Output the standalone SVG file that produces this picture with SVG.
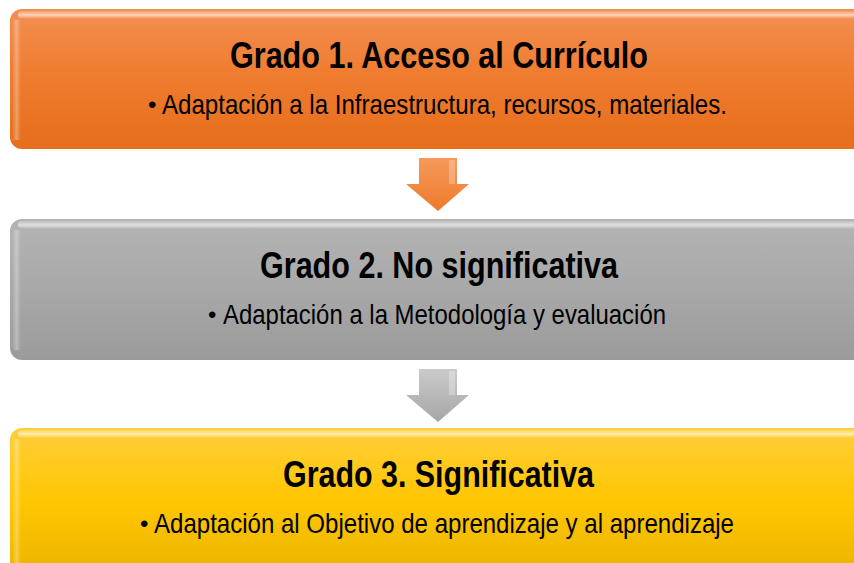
<svg xmlns="http://www.w3.org/2000/svg" width="854" height="563" viewBox="0 0 854 563">
<defs>
<linearGradient id="gO" x1="0" y1="0" x2="0" y2="1">
<stop offset="0" stop-color="#F38E52"/><stop offset="0.5" stop-color="#EF7B2D"/><stop offset="1" stop-color="#E66E1C"/>
</linearGradient>
<linearGradient id="gG" x1="0" y1="0" x2="0" y2="1">
<stop offset="0" stop-color="#B4B4B4"/><stop offset="0.5" stop-color="#A8A8A8"/><stop offset="1" stop-color="#9B9B9B"/>
</linearGradient>
<linearGradient id="gY" x1="0" y1="0" x2="0" y2="1">
<stop offset="0" stop-color="#FFCE3A"/><stop offset="0.5" stop-color="#FFC600"/><stop offset="1" stop-color="#EBB400"/>
</linearGradient>
<linearGradient id="gl" x1="0" y1="0" x2="0" y2="1">
<stop offset="0" stop-color="#fff" stop-opacity="0.15"/><stop offset="0.5" stop-color="#fff" stop-opacity="0.6"/><stop offset="1" stop-color="#fff" stop-opacity="0"/>
</linearGradient>
<linearGradient id="glL" x1="0" y1="0" x2="1" y2="0">
<stop offset="0" stop-color="#fff" stop-opacity="0"/><stop offset="0.5" stop-color="#fff" stop-opacity="0.3"/><stop offset="1" stop-color="#fff" stop-opacity="0"/>
</linearGradient>
<linearGradient id="aO" x1="0" y1="0" x2="0" y2="1">
<stop offset="0" stop-color="#F59A5C"/><stop offset="1" stop-color="#EE7A2A"/>
</linearGradient>
<linearGradient id="aG" x1="0" y1="0" x2="0" y2="1">
<stop offset="0" stop-color="#CACACA"/><stop offset="1" stop-color="#A6A6A6"/>
</linearGradient>
</defs>
<style>
.t{font-family:"Liberation Sans",Arial,sans-serif;font-weight:bold;font-size:36px;fill:#000}
.s{font-family:"Liberation Sans",Arial,sans-serif;font-size:28px;fill:#000}
.b{font-family:"Liberation Sans",Arial,sans-serif;font-size:24px;fill:#000}
</style>
<g id="connectors">
<path d="M419,158 H457 V184 H469 L438,211 L406,184 H419 Z" fill="url(#aO)"/>
<path d="M449,160 H455 V184 H449 Z" fill="#fff" opacity="0.25"/>
<path d="M419,369 H457 V395 H469 L438,422 L406,395 H419 Z" fill="url(#aG)"/>
<path d="M449,371 H455 V395 H449 Z" fill="#fff" opacity="0.3"/>
</g>
<g id="node1">
<rect x="10" y="9" width="860" height="140" rx="12" fill="url(#gO)"/>
<rect x="18" y="11" width="850" height="8" rx="4" fill="url(#gl)"/>
<rect x="12" y="20" width="9" height="120" fill="url(#glL)"/>
<text class="t" x="230" y="68" textLength="418" lengthAdjust="spacingAndGlyphs">Grado 1. Acceso al Currículo</text>
<text x="148" y="114"><tspan class="b" x="148" y="113">•</tspan><tspan class="s" x="162" y="114" textLength="565" lengthAdjust="spacingAndGlyphs">Adaptación a la Infraestructura, recursos, materiales.</tspan></text>
</g>
<g id="node2">
<rect x="10" y="219" width="860" height="141" rx="12" fill="url(#gG)"/>
<rect x="18" y="221" width="850" height="8" rx="4" fill="url(#gl)"/>
<rect x="12" y="230" width="9" height="120" fill="url(#glL)"/>
<text class="t" x="260" y="278" textLength="358" lengthAdjust="spacingAndGlyphs">Grado 2. No significativa</text>
<text x="209" y="324"><tspan class="b" x="208" y="323">•</tspan><tspan class="s" x="223" y="324" textLength="443" lengthAdjust="spacingAndGlyphs">Adaptación a la Metodología y evaluación</tspan></text>
</g>
<g id="node3">
<rect x="10" y="428" width="860" height="150" rx="12" fill="url(#gY)"/>
<rect x="18" y="430" width="850" height="8" rx="4" fill="url(#gl)"/>
<rect x="12" y="439" width="9" height="124" fill="url(#glL)"/>
<text class="t" x="283" y="487" textLength="311" lengthAdjust="spacingAndGlyphs">Grado 3. Significativa</text>
<text x="141" y="533"><tspan class="b" x="140" y="532">•</tspan><tspan class="s" x="154" y="533" textLength="580" lengthAdjust="spacingAndGlyphs">Adaptación al Objetivo de aprendizaje y al aprendizaje</tspan></text>
</g>
</svg>
